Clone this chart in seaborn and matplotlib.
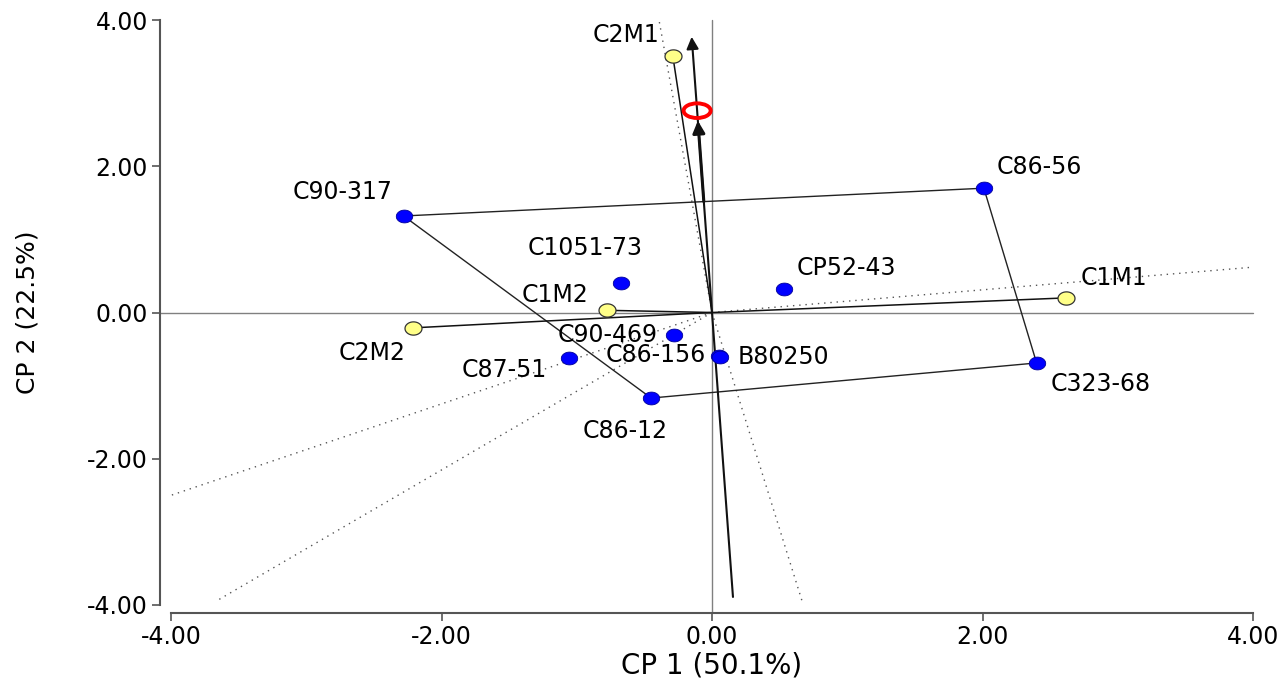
import numpy as np
import pandas as pd
import seaborn as sns
import matplotlib.pyplot as plt
from matplotlib.patches import Circle
from matplotlib.path import Path

# 1. DATA
# -------
genotypes = ["C86-56", "C90-317", "C1051-73", "CP52-43", "C90-469",
             "C86-156", "B80250", "C87-51", "C86-12", "C323-68"]
gen_x = [2.01, -2.28, -0.67, 0.53, -0.28, 0.05, 0.06, -1.06, -0.45, 2.40]
gen_y = [1.70, 1.32, 0.40, 0.32, -0.31, -0.60, -0.61, -0.62, -1.17, -0.69]

environments = ["C2M1", "C1M1", "C1M2", "C2M2"]
env_x = [-0.29, 2.62, -0.78, -2.21]
env_y = [3.51, 0.20, 0.03, -0.21]

# convex hull (which-won-where polygon)
hull = ["C86-56", "C323-68", "C86-12", "C90-317"]

# rays from the origin, perpendicular to the hull sides
ray_x = [-0.39, 4.00, 0.67, -4.00, -3.65]
ray_y = [3.98, 0.62, -3.97, -2.50, -3.93]

# average environment
avg_env_x = -0.11
avg_env_y = 2.76
aec_low, aec_high = -3.89, 3.77   # extent of the AEC axis along CP 2

# label placement (pixel offsets, alignment)
label_pos = {
    "C2M1": (-13, 21, "right"), "C86-56": (13, 21, "left"),
    "C90-317": (-11, 24, "right"), "C1051-73": (-36, 35, "center"),
    "CP52-43": (13, 21, "left"), "C1M1": (14, 20, "left"),
    "C1M2": (-18, 15, "right"), "C2M2": (-8, -25, "right"),
    "C90-469": (-17, 0, "right"), "C86-156": (-13, 1, "right"),
    "B80250": (18, 0, "left"), "C87-51": (-22, -12, "right"),
    "C86-12": (-26, -33, "center"), "C323-68": (14, -21, "left"),
}

df = pd.DataFrame({
    "name": genotypes + environments,
    "x": gen_x + env_x,
    "y": gen_y + env_y,
    "kind": ["gen"] * len(genotypes) + ["env"] * len(environments),
})

# 2. PLOT
# -------
sns.set_style("white")
plt.rcParams["font.family"] = ["DejaVu Sans"]
plt.rcParams["axes.labelcolor"] = "black"
plt.rcParams["text.color"] = "black"

fig = plt.figure(figsize=(12.88, 6.81), dpi=100)
ax = fig.add_axes([171 / 1288, 1 - 605 / 681, 1082 / 1288, 585 / 681])
ax.set_xlim(-4, 4)
ax.set_ylim(-4, 4)

# centre lines
ax.axhline(0, xmin=-11 / 1082, xmax=1, color="#808080", lw=1, clip_on=False, zorder=1)
ax.axvline(0, ymin=-8 / 585, ymax=1, color="#808080", lw=1, clip_on=False, zorder=1)

# dotted rays
for rx, ry in zip(ray_x, ray_y):
    ax.plot([0, rx], [0, ry], color="#555555", lw=1, ls=(0, (1, 3.5)), zorder=2)

# hull polygon
pts = df.set_index("name")
hx = [pts.loc[n, "x"] for n in hull + hull[:1]]
hy = [pts.loc[n, "y"] for n in hull + hull[:1]]
ax.plot(hx, hy, color="#222222", lw=1, zorder=3)

# environment vectors
for ex, ey in zip(env_x, env_y):
    ax.plot([0, ex], [0, ey], color="#111111", lw=1.1, zorder=3)

# average environment axis and arrow
s_lo = aec_low / avg_env_y
s_hi = aec_high / avg_env_y
ax.annotate("", xy=(avg_env_x * s_hi, aec_high), xytext=(avg_env_x * s_lo, aec_low),
            arrowprops=dict(arrowstyle="-|>", color="#111111", lw=1.5,
                            mutation_scale=18, shrinkA=0, shrinkB=0), zorder=4)
ax.annotate("", xy=(avg_env_x * 0.95, avg_env_y * 0.95), xytext=(avg_env_x * 0.55, avg_env_y * 0.55),
            arrowprops=dict(arrowstyle="-|>", color="#111111", lw=2.2,
                            mutation_scale=18, shrinkA=0, shrinkB=0), zorder=4)
ax.add_patch(Circle((avg_env_x, avg_env_y), 0.1, fill=False, edgecolor="red", lw=2.8, zorder=6))

# points (slightly wide ellipse markers)
t = np.linspace(0, 2 * np.pi, 40)
ellipse = Path(np.column_stack([np.cos(t), 0.78 * np.sin(t)]), closed=True)
sns.scatterplot(data=df[df.kind == "gen"], x="x", y="y", color="#0000FF",
                edgecolor="#000099", linewidth=0.6, s=140, marker=ellipse,
                ax=ax, zorder=5, legend=False)
sns.scatterplot(data=df[df.kind == "env"], x="x", y="y", color="#FFFF88",
                edgecolor="#333333", linewidth=0.9, s=150, marker=ellipse,
                ax=ax, zorder=5, legend=False)

for _, row in df.iterrows():
    dx, dy, ha = label_pos[row["name"]]
    ax.annotate(row["name"], (row["x"], row["y"]), xytext=(dx, dy),
                textcoords="offset pixels", ha=ha, va="center",
                fontsize=17, color="black", zorder=7)

# axes styling
for side in ["top", "right"]:
    ax.spines[side].set_visible(False)
ax.spines["left"].set_position(("outward", 8))
ax.spines["bottom"].set_position(("outward", 6))
for side in ["left", "bottom"]:
    ax.spines[side].set_color("#555555")
    ax.spines[side].set_linewidth(1.5)

ax.set_xticks([-4, -2, 0, 2, 4])
ax.set_yticks([-4, -2, 0, 2, 4])
ax.set_xticklabels([f"{v:.2f}" for v in [-4, -2, 0, 2, 4]])
ax.set_yticklabels([f"{v:.2f}" for v in [-4, -2, 0, 2, 4]])
ax.tick_params(axis="both", direction="out", length=5.5, width=1.2,
               color="#555555", labelsize=17, labelcolor="black", pad=3)
ax.tick_params(axis="both", left=True, bottom=True)

ax.set_xlabel("CP 1 (50.1%)", fontsize=20, labelpad=2, color="black")
ax.set_ylabel("CP 2 (22.5%)", fontsize=18, labelpad=34, color="black")

plt.savefig("out.png", dpi=100)
